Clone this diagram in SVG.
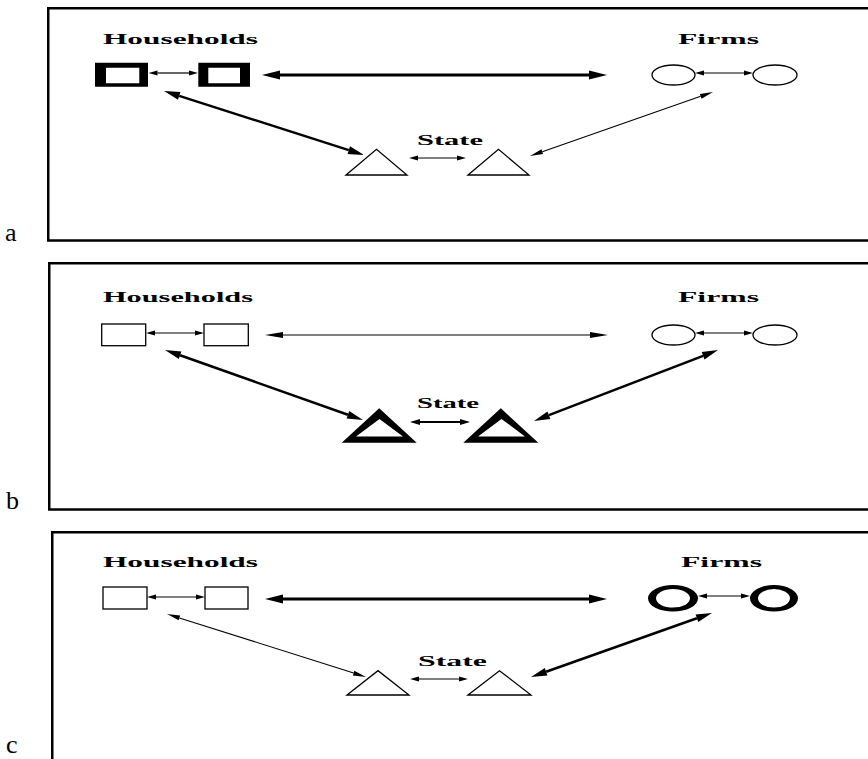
<svg xmlns="http://www.w3.org/2000/svg" width="868" height="759" viewBox="0 0 868 759">
<style>
.frame{fill:none;stroke:#000;stroke-width:2.5}
.lbl{font-family:"Liberation Serif","Times New Roman",serif;font-weight:bold;font-size:15px;fill:#000}
.pl{font-family:"Liberation Serif","Times New Roman",serif;font-size:26px;fill:#000}
.thin{fill:#fff;stroke:#000;stroke-width:1.3}
.blk{fill:#000;fill-rule:evenodd;stroke:none}
.c{fill:none;stroke:#000;stroke-linecap:butt}
marker{overflow:visible}
marker path{fill:#000;stroke:none}
</style>
<defs>
<marker id="ps" markerUnits="userSpaceOnUse" orient="auto-start-reverse" refX="0" refY="0" markerWidth="1" markerHeight="1"><path d="M0,-2.5 L9,0 L0,2.5z"/></marker>
<marker id="pm" markerUnits="userSpaceOnUse" orient="auto-start-reverse" refX="0" refY="0" markerWidth="1" markerHeight="1"><path d="M0,-3 L10,0 L0,3z"/></marker>
<marker id="lt" markerUnits="userSpaceOnUse" orient="auto-start-reverse" refX="0" refY="0" markerWidth="1" markerHeight="1"><path d="M0,-3 L18,0 L0,3z"/></marker>
<marker id="lT" markerUnits="userSpaceOnUse" orient="auto-start-reverse" refX="0" refY="0" markerWidth="1" markerHeight="1"><path d="M0,-4.5 L18,0 L0,4.5z"/></marker>
<marker id="dt" markerUnits="userSpaceOnUse" orient="auto-start-reverse" refX="0" refY="0" markerWidth="1" markerHeight="1"><path d="M0,-2.5 L13,0 L0,2.5z"/></marker>
<marker id="dT" markerUnits="userSpaceOnUse" orient="auto-start-reverse" refX="0" refY="0" markerWidth="1" markerHeight="1"><path d="M0,-4 L16,0 L0,4z"/></marker>
</defs>

<g id="frames">
<rect class="frame" x="48.25" y="8.25" width="830" height="232.25"/>
<rect class="frame" x="49.25" y="263.25" width="830" height="246.25"/>
<rect class="frame" x="52.25" y="532.25" width="830" height="240"/>
</g>
<g id="panel-labels">
<text class="pl" x="5" y="241">a</text>
<text class="pl" x="6" y="509">b</text>
<text class="pl" x="6" y="753">c</text>
</g>

<!-- Panel a -->
<g id="a-households-label"><text class="lbl" x="103" y="44" textLength="155" lengthAdjust="spacingAndGlyphs">Households</text></g>
<g id="a-firms-label"><text class="lbl" x="678" y="44" textLength="81" lengthAdjust="spacingAndGlyphs">Firms</text></g>
<g id="a-state-label"><text class="lbl" x="417" y="145" textLength="66" lengthAdjust="spacingAndGlyphs">State</text></g>
<g id="a-household1"><path class="blk" d="M95,62.7H148V86.7H95Z M106,67.7V83.3H139.3V67.7Z"/></g>
<g id="a-household2"><path class="blk" d="M198.3,62.7H250V86.7H198.3Z M208.3,67.7V83.3H240V67.7Z"/></g>
<g id="a-firm1"><ellipse class="thin" cx="673.5" cy="75" rx="21.5" ry="10"/></g>
<g id="a-firm2"><ellipse class="thin" cx="775" cy="75" rx="22" ry="10"/></g>
<g id="a-state1"><path class="thin" d="M346,175 L376.5,149.3 L407,175Z"/></g>
<g id="a-state2"><path class="thin" d="M468,175 L498.5,149.3 L529,175Z"/></g>

<!-- Panel b -->
<g id="b-households-label"><text class="lbl" x="103" y="301.7" textLength="150" lengthAdjust="spacingAndGlyphs">Households</text></g>
<g id="b-firms-label"><text class="lbl" x="678" y="301.7" textLength="81" lengthAdjust="spacingAndGlyphs">Firms</text></g>
<g id="b-state-label"><text class="lbl" x="417" y="408.3" textLength="62" lengthAdjust="spacingAndGlyphs">State</text></g>
<g id="b-household1"><rect class="thin" x="101.7" y="324" width="44" height="21.7"/></g>
<g id="b-household2"><rect class="thin" x="204" y="324" width="44.3" height="21.7"/></g>
<g id="b-firm1"><ellipse class="thin" cx="673.5" cy="335" rx="21.5" ry="10"/></g>
<g id="b-firm2"><ellipse class="thin" cx="775" cy="335" rx="22" ry="10"/></g>
<g id="b-state1"><path class="blk" d="M341.7,442.7 L379.2,408.3 L416.7,442.7Z M356,436.5 L403,436.5 L379.5,419Z"/></g>
<g id="b-state2"><path class="blk" d="M463.3,442.7 L500.8,408.3 L538.3,442.7Z M478,436.5 L525,436.5 L501.5,419Z"/></g>

<!-- Panel c -->
<g id="c-households-label"><text class="lbl" x="103" y="567" textLength="155" lengthAdjust="spacingAndGlyphs">Households</text></g>
<g id="c-firms-label"><text class="lbl" x="681" y="567" textLength="81" lengthAdjust="spacingAndGlyphs">Firms</text></g>
<g id="c-state-label"><text class="lbl" x="418" y="666" textLength="69" lengthAdjust="spacingAndGlyphs">State</text></g>
<g id="c-household1"><rect class="thin" x="103" y="587" width="44" height="22"/></g>
<g id="c-household2"><rect class="thin" x="205" y="587" width="43" height="22"/></g>
<g id="c-firm1"><path class="blk" d="M648,598.3 A25,13.3 0 1 0 698,598.3 A25,13.3 0 1 0 648,598.3Z M656,598.3 A17,9.3 0 1 0 690,598.3 A17,9.3 0 1 0 656,598.3Z"/></g>
<g id="c-firm2"><path class="blk" d="M750,598.3 A24,13.3 0 1 0 798,598.3 A24,13.3 0 1 0 750,598.3Z M758,598.3 A16,9.3 0 1 0 790,598.3 A16,9.3 0 1 0 758,598.3Z"/></g>
<g id="c-state1"><path class="thin" d="M347,695 L378,670.7 L409,695Z"/></g>
<g id="c-state2"><path class="thin" d="M468,695 L499.5,670.7 L531,695Z"/></g>

<g id="connectors">
<!-- a -->
<line class="c" stroke-width="1.2" x1="157.5" y1="73" x2="189" y2="73" marker-start="url(#ps)" marker-end="url(#ps)"/>
<line class="c" stroke-width="3" x1="280" y1="75" x2="589" y2="75" marker-start="url(#lT)" marker-end="url(#lT)"/>
<line class="c" stroke-width="1.2" x1="704" y1="73" x2="744" y2="73" marker-start="url(#ps)" marker-end="url(#ps)"/>
<line class="c" stroke-width="2.5" x1="179.2" y1="95.9" x2="348.8" y2="150.1" marker-start="url(#dT)" marker-end="url(#dT)"/>
<line class="c" stroke-width="1.1" x1="700.7" y1="96.3" x2="542.3" y2="151.7" marker-start="url(#dt)" marker-end="url(#dt)"/>
<line class="c" stroke-width="1.2" x1="418" y1="158" x2="457" y2="158" marker-start="url(#ps)" marker-end="url(#ps)"/>
<!-- b -->
<line class="c" stroke-width="1.2" x1="155" y1="333" x2="195" y2="333" marker-start="url(#ps)" marker-end="url(#ps)"/>
<line class="c" stroke-width="1.1" x1="283" y1="335" x2="590" y2="335" marker-start="url(#lt)" marker-end="url(#lt)"/>
<line class="c" stroke-width="1.2" x1="704" y1="333" x2="744" y2="333" marker-start="url(#ps)" marker-end="url(#ps)"/>
<line class="c" stroke-width="2.5" x1="180.1" y1="355.3" x2="347.9" y2="414.7" marker-start="url(#dT)" marker-end="url(#dT)"/>
<line class="c" stroke-width="2.5" x1="703.1" y1="355.8" x2="548.9" y2="415.2" marker-start="url(#dT)" marker-end="url(#dT)"/>
<line class="c" stroke-width="2" x1="420" y1="422" x2="460" y2="422" marker-start="url(#pm)" marker-end="url(#pm)"/>
<!-- c -->
<line class="c" stroke-width="1.2" x1="156" y1="597" x2="196" y2="597" marker-start="url(#ps)" marker-end="url(#ps)"/>
<line class="c" stroke-width="3" x1="283" y1="599" x2="589" y2="599" marker-start="url(#lT)" marker-end="url(#lT)"/>
<line class="c" stroke-width="1.2" x1="707" y1="596" x2="741" y2="596" marker-start="url(#ps)" marker-end="url(#ps)"/>
<line class="c" stroke-width="1.1" x1="179.4" y1="617.9" x2="353.6" y2="673.1" marker-start="url(#dt)" marker-end="url(#dt)"/>
<line class="c" stroke-width="2.5" x1="696.9" y1="618.3" x2="546.1" y2="671.7" marker-start="url(#dT)" marker-end="url(#dT)"/>
<line class="c" stroke-width="1.2" x1="419" y1="679" x2="459" y2="679" marker-start="url(#ps)" marker-end="url(#ps)"/>
</g>
</svg>
